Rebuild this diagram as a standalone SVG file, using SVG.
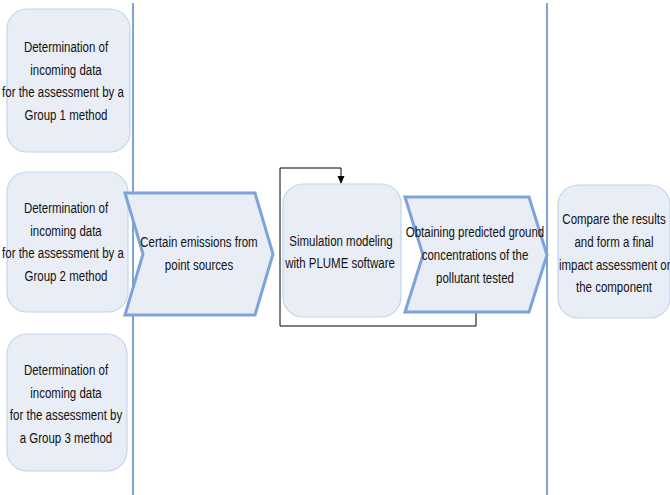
<svg xmlns="http://www.w3.org/2000/svg" width="670" height="495" viewBox="0 0 670 495">
<style>
.box{fill:#e9eef6;stroke:#c3d4ec;stroke-width:1.2}
.chev{fill:#e9eef6;stroke:#7ea2da;stroke-width:3}
.sep{stroke:#7fa2d8;stroke-width:2;fill:none}
.t{font-family:"Liberation Sans Narrow","Arial Narrow","Liberation Sans",sans-serif;font-size:14px;fill:#111;text-anchor:middle}
.conn{stroke:#000;stroke-width:1;fill:none}
</style>
<g id="separators">
<line class="sep" x1="133" y1="3" x2="133" y2="495"/>
<line class="sep" x1="547" y1="3" x2="547" y2="495"/>
</g>
<g id="connectors">
<path class="conn" d="M476,313 V326 H280 V168 H341 V183"/>
<path d="M337.5,176 L341,184 L344.5,176 Z" fill="#000"/>
</g>
<g id="g1">
<rect class="box" x="7" y="9" width="123" height="143" rx="20"/>
<text class="t" transform="translate(66,52) scale(0.82,1)">Determination of</text>
<text class="t" transform="translate(66,75) scale(0.82,1)">incoming data</text>
<text class="t" transform="translate(63,97) scale(0.82,1)">for the assessment by a</text>
<text class="t" transform="translate(66,120) scale(0.82,1)">Group 1 method</text>
</g>
<g id="g2">
<rect class="box" x="7" y="172" width="121" height="140" rx="20"/>
<text class="t" transform="translate(66,213) scale(0.82,1)">Determination of</text>
<text class="t" transform="translate(66,236) scale(0.82,1)">incoming data</text>
<text class="t" transform="translate(63,258) scale(0.82,1)">for the assessment by a</text>
<text class="t" transform="translate(66,281) scale(0.82,1)">Group 2 method</text>
</g>
<g id="g3">
<rect class="box" x="7" y="334" width="120" height="137" rx="20"/>
<text class="t" transform="translate(66,375) scale(0.82,1)">Determination of</text>
<text class="t" transform="translate(66,398) scale(0.82,1)">incoming data</text>
<text class="t" transform="translate(66,420) scale(0.82,1)">for the assessment by</text>
<text class="t" transform="translate(66,443) scale(0.82,1)">a Group 3 method</text>
</g>
<g id="emissions">
<polygon class="chev" points="125,193 255,193 273,254 255,315 125,315 143,254"/>
<text class="t" transform="translate(199,247) scale(0.82,1)">Certain emissions from</text>
<text class="t" transform="translate(199,270) scale(0.82,1)">point sources</text>
</g>
<g id="simulation">
<rect class="box" x="283" y="184" width="118" height="133" rx="20"/>
<text class="t" transform="translate(341,246) scale(0.82,1)">Simulation modeling</text>
<text class="t" transform="translate(340,268) scale(0.82,1)">with PLUME software</text>
</g>
<g id="obtaining">
<polygon class="chev" points="405,197 529,197 547,255 529,312 405,312 423,255"/>
<text class="t" transform="translate(475,237) scale(0.82,1)">Obtaining predicted ground</text>
<text class="t" transform="translate(475,260) scale(0.82,1)">concentrations of the</text>
<text class="t" transform="translate(475,283) scale(0.82,1)">pollutant tested</text>
</g>
<g id="compare">
<rect class="box" x="558" y="185" width="112" height="133" rx="20"/>
<text class="t" transform="translate(614,224) scale(0.82,1)">Compare the results</text>
<text class="t" transform="translate(614,247) scale(0.82,1)">and form a final</text>
<text class="t" transform="translate(616,270) scale(0.82,1)">impact assessment on</text>
<text class="t" transform="translate(614,292) scale(0.82,1)">the component</text>
</g>
</svg>
